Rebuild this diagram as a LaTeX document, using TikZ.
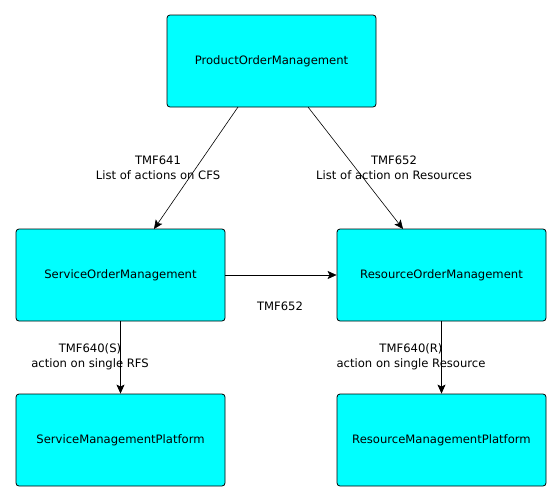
\documentclass[tikz,border=0pt]{standalone}
\usepackage{fontspec}
\setmainfont{DejaVu Sans}
\usetikzlibrary{arrows.meta}
\definecolor{boxcyan}{RGB}{0,255,255}
\begin{document}
\begin{tikzpicture}[x=1pt,y=-1pt,
  box/.style={draw=black,line width=0.8pt,fill=boxcyan,rounded corners=3pt,minimum width=209pt,minimum height=92pt,font=\fontsize{11.6}{13}\selectfont,inner sep=0pt},
  conn/.style={draw=black,line width=0.6pt,-{Stealth[length=9pt,width=8pt,inset=2pt]}},
  lbl/.style={font=\fontsize{11.6}{15}\selectfont,align=center,inner sep=0pt}]
\useasboundingbox (0,0) rectangle (559,501);
\node[box] (pom) at (271.5,61) {ProductOrderManagement};
\node[box] (som) at (120.5,275) {ServiceOrderManagement};
\node[box] (rom) at (441.5,275) {ResourceOrderManagement};
\node[box] (smp) at (120.5,440) {ServiceManagementPlatform};
\node[box] (rmp) at (441.5,440) {ResourceManagementPlatform};
\coordinate (a1) at (238,107);
\coordinate (b1) at (154,229);
\coordinate (a2) at (308,107);
\coordinate (b2) at (403,229);
\draw[conn] (a1) -- (b1);
\draw[conn] (a2) -- (b2);
\draw[conn] (som.east) -- (rom.west);
\draw[conn] (som.south) -- (smp.north);
\draw[conn] (rom.south) -- (rmp.north);
\node[lbl] (l1) at (158,168) {TMF641\\List of actions on CFS};
\node[lbl] (l2) at (394,168) {TMF652\\List of action on Resources};
\node[lbl] (l3) at (280,306) {TMF652};
\node[lbl] (l4) at (90,357) {TMF640(S)\\action on single RFS};
\node[lbl] (l5) at (411,357) {TMF640(R)\\action on single Resource};
\end{tikzpicture}
\end{document}
